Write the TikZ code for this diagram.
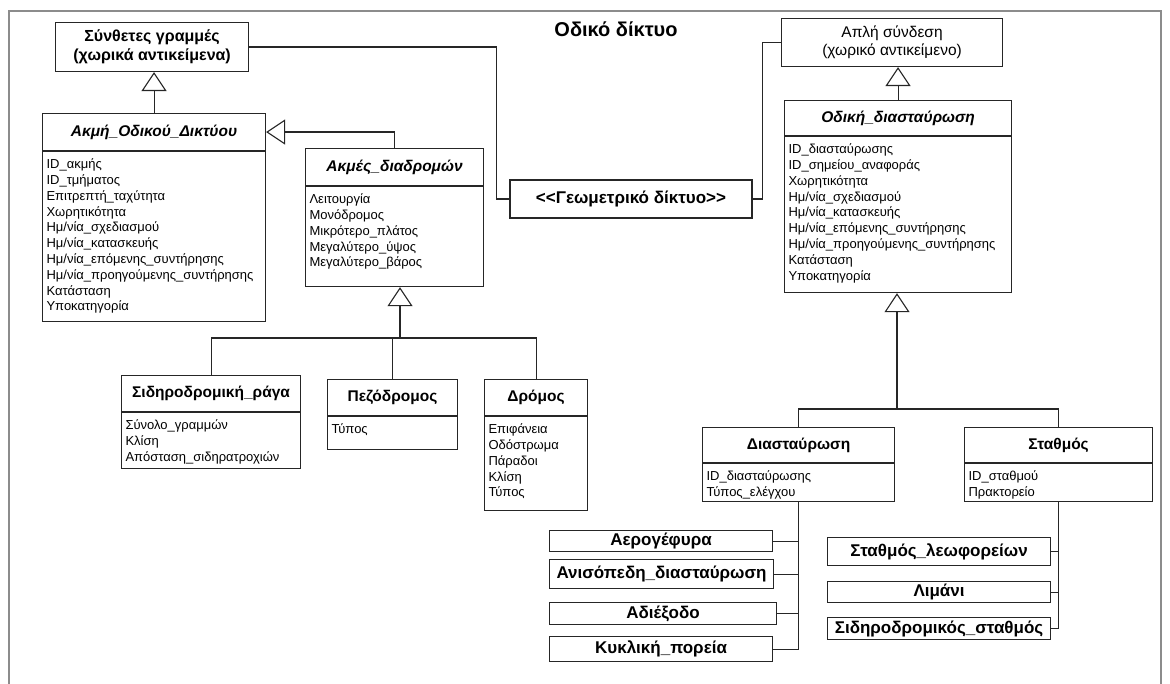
\documentclass[tikz,border=0pt]{standalone}
\usepackage{fontspec}
\setmainfont{Liberation Sans}
\usetikzlibrary{arrows.meta, positioning}

\begin{document}
\begin{tikzpicture}[
    x=1pt, y=-1pt,
    box/.style={draw=black!85, line width=1.1pt, inner sep=0pt},
    cls/.style={box, anchor=north west, minimum height=36pt,
                font=\fontsize{15.5}{18}\selectfont\bfseries},
    abstr/.style={cls, font=\fontsize{15.5}{18}\selectfont\bfseries\itshape},
    body/.style={box, align=left, inner xsep=4pt, inner ysep=3pt, text height=14pt,
                 font=\fontsize{13}{15.8}\selectfont},
    leaf/.style={box, anchor=north west, minimum width=223pt,
                 font=\fontsize{17}{19}\selectfont\bfseries},
    line/.style={draw=black!85, line width=1.1pt},
    gen/.style={line, -{Triangle[open, length=19pt, width=25pt]}},
    node distance=0pt
]
\useasboundingbox (0,0) rectangle (1170,684);
\draw[draw=black!45, line width=2.5pt] (9,684) -- (9,11) -- (1161,11) -- (1161,684);
\node[font=\fontsize{20}{22}\selectfont\bfseries] (title) at (616,29) {Οδικό δίκτυο};

% left part
\node[cls, minimum width=193pt, minimum height=49pt, align=center,
      font=\fontsize{16}{19}\selectfont\bfseries] (synth) at (55,22)
    {Σύνθετες γραμμές\\(χωρικά αντικείμενα)};
\node[abstr, minimum width=223pt, minimum height=37pt] (akmi) at (42,113) {Ακμή\_Οδικού\_Δικτύου};
\node[body, text width=215pt, text depth=150pt, below=of akmi] (akmi-attr)
    {ID\_ακμής\\ID\_τμήματος\\Επιτρεπτή\_ταχύτητα\\Χωρητικότητα\\Ημ/νία\_σχεδιασμού\\
     Ημ/νία\_κατασκευής\\Ημ/νία\_επόμενης\_συντήρησης\\Ημ/νία\_προηγούμενης\_συντήρησης\\
     Κατάσταση\\Υποκατηγορία};
\node[abstr, minimum width=178pt, minimum height=37pt] (diadr) at (305,148) {Ακμές\_διαδρομών};
\node[body, text width=170pt, text depth=80pt, below=of diadr] (diadr-attr)
    {Λειτουργία\\Μονόδρομος\\Μικρότερο\_πλάτος\\Μεγαλύτερο\_ύψος\\Μεγαλύτερο\_βάρος};
\node[cls, minimum width=179pt] (rail) at (121,375) {Σιδηροδρομική\_ράγα};
\node[body, text width=171pt, text depth=36pt, below=of rail] (rail-attr)
    {Σύνολο\_γραμμών\\Κλίση\\Απόσταση\_σιδηρατροχιών};
\node[cls, minimum width=130pt] (pez) at (327,379) {Πεζόδρομος};
\node[body, text width=122pt, text depth=13pt, below=of pez] (pez-attr) {Τύπος};
\node[cls, minimum width=103pt] (road) at (484,379) {Δρόμος};
\node[body, text width=95pt, text depth=74pt, below=of road] (road-attr)
    {Επιφάνεια\\Οδόστρωμα\\Πάραδοι\\Κλίση\\Τύπος};

% middle
\node[box, minimum width=242pt, minimum height=38pt, font=\fontsize{17}{19}\selectfont\bfseries]
    (geom) at (631,199) {<\kern0pt<Γεωμετρικό δίκτυο>\kern0pt>};

% right part
\node[cls, minimum width=221pt, minimum height=48pt, align=center,
      font=\fontsize{15.5}{18}\selectfont] (apli) at (781,18)
    {Απλή σύνδεση\\(χωρικό αντικείμενο)};
\node[abstr, minimum width=227pt, minimum height=35pt] (odiki) at (784,100) {Οδική\_διασταύρωση};
\node[body, text width=219pt, text depth=136pt, below=of odiki] (odiki-attr)
    {ID\_διασταύρωσης\\ID\_σημείου\_αναφοράς\\Χωρητικότητα\\Ημ/νία\_σχεδιασμού\\
     Ημ/νία\_κατασκευής\\Ημ/νία\_επόμενης\_συντήρησης\\Ημ/νία\_προηγούμενης\_συντήρησης\\
     Κατάσταση\\Υποκατηγορία};
\node[cls, minimum width=192pt, minimum height=35pt] (diast) at (702,427) {Διασταύρωση};
\node[body, text width=184pt, text depth=18pt, below=of diast] (diast-attr)
    {ID\_διασταύρωσης\\Τύπος\_ελέγχου};
\node[cls, minimum width=188pt, minimum height=35pt] (stath) at (964,427) {Σταθμός};
\node[body, text width=180pt, text depth=18pt, below=of stath] (stath-attr)
    {ID\_σταθμού\\Πρακτορείο};

\node[leaf, minimum height=21pt] (aero) at (549,530) {Αερογέφυρα};
\node[leaf, minimum height=29pt, minimum width=224pt] (aniso) at (549,559) {Ανισόπεδη\_διασταύρωση};
\node[leaf, minimum height=22pt, minimum width=227pt] (adiex) at (549,602) {Αδιέξοδο};
\node[leaf, minimum height=25pt] (kykl) at (549,636) {Κυκλική\_πορεία};
\node[leaf, minimum height=28pt] (leof) at (827,537) {Σταθμός\_λεωφορείων};
\node[leaf, minimum height=21pt] (limani) at (827,581) {Λιμάνι};
\node[leaf, minimum height=22pt] (sidst) at (827,617) {Σιδηροδρομικός\_σταθμός};

% connectors
\draw[gen] (akmi.north) -- (akmi.north |- synth.south);
\draw[gen] (diadr.north) |- (akmi.east);
\coordinate (j1) at (400,338);
\draw[line] (rail.north) |- (j1) -| (road.north);
\draw[gen] (j1) -- (j1 |- diadr-attr.south);
\draw[line] (pez.north) -- (pez.north |- j1);
\draw[line] (synth.east) -| ([xshift=-13pt]geom.west) -- (geom.west);
\draw[line] (geom.east) -- ([xshift=10pt]geom.east) |- (apli.west);
\draw[gen] (odiki.north) -- (odiki.north |- apli.south);
\coordinate (j2) at (897,409);
\draw[line] (diast.north) |- (j2) -| (stath.north);
\draw[gen] (j2) -- (j2 |- odiki-attr.south);
\draw[line] (diast-attr.south) |- (kykl.east);
\foreach \n in {aero, aniso, adiex}
    \draw[line] (\n.east) -- (\n.east -| diast-attr.south);
\draw[line] (stath-attr.south) |- (sidst.east);
\foreach \n in {leof, limani}
    \draw[line] (\n.east) -- (\n.east -| stath-attr.south);
\end{tikzpicture}
\end{document}
